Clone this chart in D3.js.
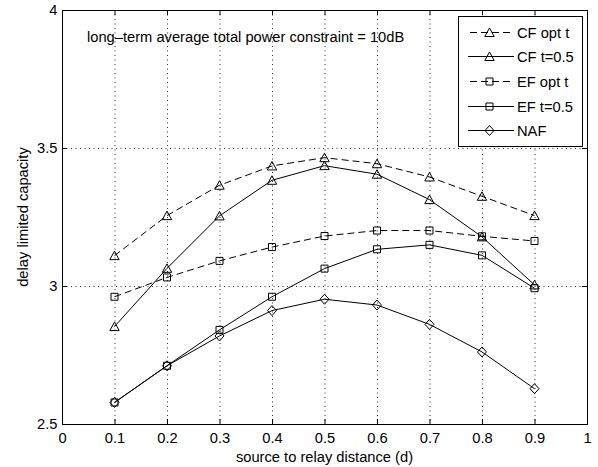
<!DOCTYPE html>
<html><head><meta charset="utf-8">
<script src="https://cdn.jsdelivr.net/npm/d3@7"></script>
<style>body{margin:0;background:#fff}svg{display:block}text{font-family:"Liberation Sans",Arial,Helvetica,sans-serif;fill:#000}</style>
</head><body><svg id="c" width="598" height="467"></svg>
<script>
const xVals = [0.1,0.2,0.3,0.4,0.5,0.6,0.7,0.8,0.9];
const cfOpt  = [3.11,3.255,3.365,3.435,3.465,3.443,3.395,3.325,3.255];
const cfHalf = [2.853,3.064,3.254,3.383,3.436,3.405,3.313,3.178,3.004];
const efOpt  = [2.961,3.031,3.091,3.141,3.181,3.201,3.201,3.18,3.163];
const efHalf = [2.578,2.711,2.841,2.961,3.063,3.133,3.149,3.111,2.992];
const naf    = [2.578,2.711,2.819,2.911,2.952,2.931,2.861,2.761,2.628];
const seriesNames = ["CF opt t","CF t=0.5","EF opt t","EF t=0.5","NAF"];
const xTicks = [0,0.1,0.2,0.3,0.4,0.5,0.6,0.7,0.8,0.9,1];
const yTicks = [2.5,3,3.5,4];
const xLabel = "source to relay distance (d)";
const yLabel = "delay limited capacity";
const note = "long\u2013term average total power constraint = 10dB";

const series = [
  {name:seriesNames[0], values:cfOpt, dashed:true, marker:"tri"},
  {name:seriesNames[1], values:cfHalf, dashed:false, marker:"tri"},
  {name:seriesNames[2], values:efOpt, dashed:true, marker:"sq"},
  {name:seriesNames[3], values:efHalf, dashed:false, marker:"sq"},
  {name:seriesNames[4], values:naf, dashed:false, marker:"dia"}
];

const L=62, R=587, T=10, B=424;
const x = d3.scaleLinear().domain([0,1]).range([L,R]);
const y = d3.scaleLinear().domain([2.5,4]).range([B,T]);
const svg = d3.select("#c");
const fs = 14.7;

// grid
const g = svg.append("g");
xTicks.slice(1,-1).forEach(t=>{
  g.append("line").attr("x1",x(t)+0.5).attr("x2",x(t)+0.5).attr("y1",T).attr("y2",B)
   .attr("stroke","#333").attr("stroke-width",1).attr("stroke-dasharray","1,3.5");
});
yTicks.slice(1,-1).forEach(t=>{
  g.append("line").attr("y1",Math.round(y(t))+0.5).attr("y2",Math.round(y(t))+0.5).attr("x1",L).attr("x2",R)
   .attr("stroke","#333").attr("stroke-width",1).attr("stroke-dasharray","1,3.5");
});

// axes
const ax = svg.append("g").attr("transform",`translate(0,${B})`)
  .call(d3.axisBottom(x).tickValues(xTicks).tickSize(0).tickPadding(8.5).tickFormat(d3.format("")));
const ay = svg.append("g").attr("transform",`translate(${L},0)`)
  .call(d3.axisLeft(y).tickValues(yTicks).tickSize(0).tickPadding(4.5).tickFormat(d3.format("")));
[ax,ay].forEach(a=>{a.select(".domain").remove(); a.selectAll("text").style("font-size",fs+"px").style("font-family","Liberation Sans, Arial, sans-serif");});

// inward ticks on all sides
const tk = svg.append("g").attr("stroke","#000").attr("stroke-width",1);
xTicks.forEach(t=>{
  tk.append("line").attr("x1",x(t)+0.5).attr("x2",x(t)+0.5).attr("y1",B).attr("y2",B-5);
  tk.append("line").attr("x1",x(t)+0.5).attr("x2",x(t)+0.5).attr("y1",T).attr("y2",T+5);
});
yTicks.forEach(t=>{
  tk.append("line").attr("y1",Math.round(y(t))+0.5).attr("y2",Math.round(y(t))+0.5).attr("x1",L).attr("x2",L+5);
  tk.append("line").attr("y1",Math.round(y(t))+0.5).attr("y2",Math.round(y(t))+0.5).attr("x1",R).attr("x2",R-5);
});
svg.append("rect").attr("x",L+0.5).attr("y",T+0.5).attr("width",R-L).attr("height",B-T)
  .attr("fill","none").attr("stroke","#000").attr("stroke-width",1);

// markers
function marker(sel, type, cx, cy){
  let p;
  if(type==="tri") p=`M${cx},${cy-4.5}L${cx+4.7},${cy+4}L${cx-4.7},${cy+4}Z`;
  else if(type==="sq") p=`M${cx-3.5},${cy-3.5}h7v7h-7Z`;
  else p=`M${cx},${cy-5}L${cx+4.5},${cy}L${cx},${cy+5}L${cx-4.5},${cy}Z`;
  sel.append("path").attr("d",p).attr("fill","none").attr("stroke","#000").attr("stroke-width",1);
}

const line = d3.line().x((d,i)=>x(xVals[i])).y(d=>y(d));
series.forEach(s=>{
  const gs = svg.append("g");
  gs.append("path").attr("d",line(s.values)).attr("fill","none").attr("stroke","#000")
    .attr("stroke-width",1).attr("stroke-dasharray",s.dashed?"7,4":null);
  s.values.forEach((v,i)=>marker(gs,s.marker,x(xVals[i]),y(v)));
});

// note
svg.append("text").attr("x",87).attr("y",41.5).style("font-size",fs+"px").text(note);

// legend
const lg = svg.append("g");
lg.append("rect").attr("x",458.5).attr("y",16.5).attr("width",124).attr("height",130)
  .attr("fill","#fff").attr("stroke","#000").attr("stroke-width",1);
const ly = [32,56,81,106,130];
series.forEach((s,i)=>{
  const yy = ly[i]+0.5;
  lg.append("line").attr("x1",468).attr("x2",514).attr("y1",yy).attr("y2",yy)
    .attr("stroke","#000").attr("stroke-width",1).attr("stroke-dasharray",s.dashed?"7,4":null)
    .attr("stroke-dashoffset",s.dashed?-2:0);
  marker(lg,s.marker,489.5,yy);
  lg.append("text").attr("x",517).attr("y",yy+5).style("font-size",fs+"px").text(s.name);
});

// axis labels
svg.append("text").attr("x",(L+R)/2).attr("y",461.5).attr("text-anchor","middle").style("font-size",fs+"px").text(xLabel);
svg.append("text").attr("transform",`translate(28,${(T+B)/2}) rotate(-90)`).attr("text-anchor","middle").style("font-size",fs+"px").text(yLabel);
</script></body></html>
